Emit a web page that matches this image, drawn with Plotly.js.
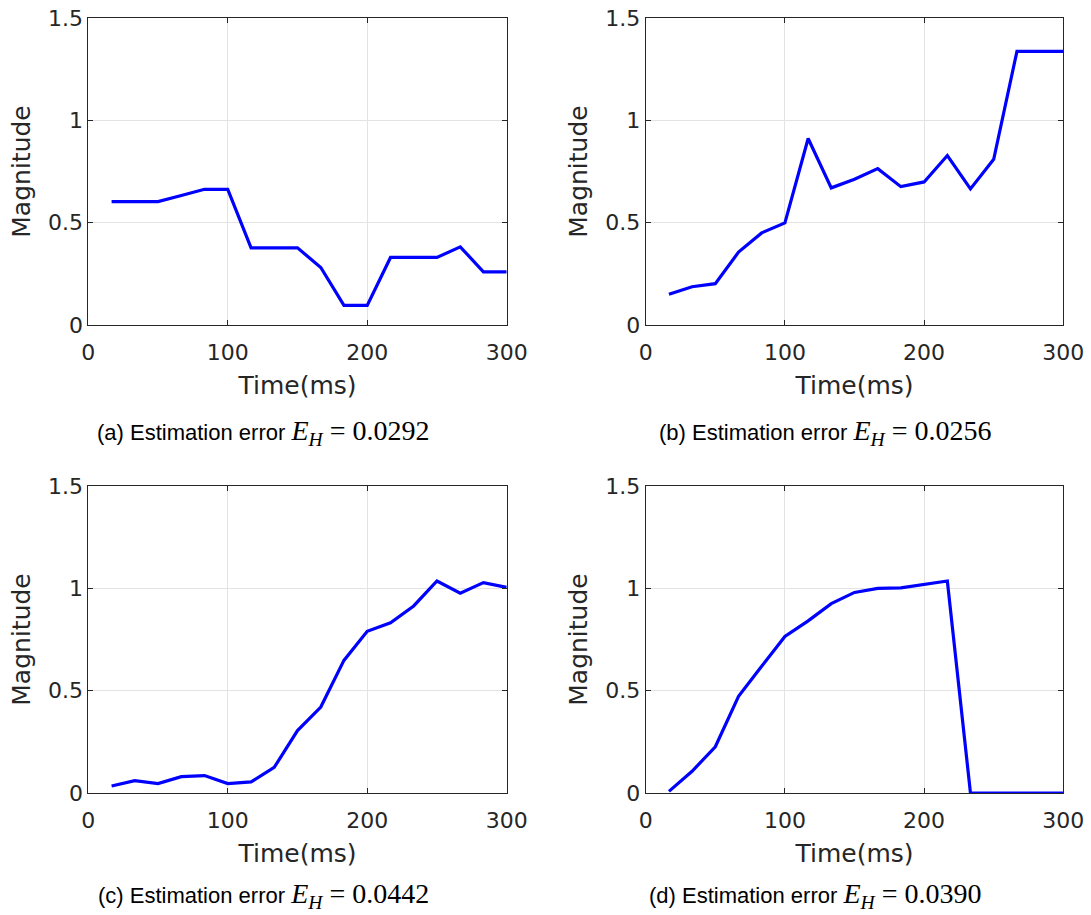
<!DOCTYPE html>
<html>
<head>
<meta charset="utf-8">
<script src="https://cdn.plot.ly/plotly-3.0.1.min.js"></script>
<style>html,body{margin:0;padding:0;background:#fff;}#chart{width:1091px;height:915px;}</style>
</head>
<body>
<div id="chart"></div>
<script>
// Time axis (ms)
const timeMs = [16.7, 33.3, 50, 66.7, 83.3, 100, 116.7, 133.3, 150, 166.7, 183.3, 200, 216.7, 233.3, 250, 266.7, 283.3, 300];
// Magnitudes per panel
const magA = [0.603, 0.603, 0.603, 0.633, 0.663, 0.663, 0.377, 0.377, 0.377, 0.281, 0.096, 0.096, 0.330, 0.330, 0.330, 0.382, 0.260, 0.260];
const magB = [0.150, 0.187, 0.202, 0.356, 0.450, 0.499, 0.911, 0.670, 0.712, 0.764, 0.676, 0.699, 0.828, 0.665, 0.810, 1.337, 1.337, 1.337];
const magC = [0.034, 0.060, 0.046, 0.080, 0.085, 0.046, 0.054, 0.125, 0.305, 0.420, 0.648, 0.790, 0.832, 0.914, 1.036, 0.976, 1.028, 1.005];
const magD = [0.008, 0.106, 0.226, 0.472, 0.619, 0.765, 0.841, 0.925, 0.980, 1.000, 1.002, 1.021, 1.036, 0, 0, 0, 0, 0];
// Captions
const panelLabels = ["(a)", "(b)", "(c)", "(d)"];
const errorValues = ["0.0292", "0.0256", "0.0442", "0.0390"];
const xTickVals = [0, 100, 200, 300];
const yTickVals = [0, 0.5, 1, 1.5];
const yTickText = ["0", "0.5", "1", "1.5"];

const W = 1091, H = 915;
const series = [magA, magB, magC, magD];
const axisIds = [["x", "y"], ["x2", "y2"], ["x3", "y3"], ["x4", "y4"]];

const traces = series.map((m, i) => ({
  type: "scatter", mode: "lines", x: timeMs, y: m,
  xaxis: axisIds[i][0], yaxis: axisIds[i][1],
  line: {color: "#0000ff", width: 3.2}, showlegend: false, hoverinfo: "x+y"
}));

const domLeft = [88.3 / W, 506.7 / W];
const domRight = [645.7 / W, 1063.3 / W];
const domTop = [1 - 325 / H, 1 - 18 / H];
const domBottom = [1 - 793 / H, 1 - 486 / H];

const axFam = "DejaVu Sans, sans-serif";
const capFam = "Liberation Sans, Arial, sans-serif";
const tickFont = {family: axFam, size: 22, color: "#262626"};
const titleFont = {family: axFam, size: 25, color: "#262626"};

function xAx(dom, anchor) {
  return {
    domain: dom, anchor: anchor, range: [0, 300], tickvals: xTickVals,
    ticks: "inside", ticklen: 5, tickcolor: "#262626", showline: true, linecolor: "#262626",
    linewidth: 1, mirror: "ticks", showgrid: true, gridcolor: "#e3e3e3", zeroline: false,
    ticklabelstandoff: 8,
    tickfont: tickFont, title: {text: "Time(ms)", font: titleFont, standoff: 12}
  };
}
function yAx(dom, anchor) {
  return {
    domain: dom, anchor: anchor, range: [0, 1.5], tickvals: yTickVals, ticktext: yTickText,
    ticks: "inside", ticklen: 5, tickcolor: "#262626", showline: true, linecolor: "#262626",
    linewidth: 1, mirror: "ticks", showgrid: true, gridcolor: "#e3e3e3", zeroline: false,
    tickfont: tickFont, title: {text: "Magnitude", font: titleFont, standoff: 10}
  };
}

const capPos = [[263, 432], [825, 432], [263, 895], [815, 895]];
const annotations = panelLabels.map((p, i) => ({
  xref: "paper", yref: "paper", x: capPos[i][0] / W, y: 1 - capPos[i][1] / H,
  xanchor: "center", yanchor: "middle", showarrow: false,
  font: {family: capFam, size: 22, color: "#000"},
  text: p + " Estimation error <span style=\"font-family:'Liberation Serif',serif;font-size:28px\"><i>E</i><sub><i>H</i></sub>&nbsp;=&nbsp;" + errorValues[i] + "</span>"
}));

const layout = {
  width: W, height: H, margin: {l: 0, r: 0, t: 0, b: 0},
  paper_bgcolor: "#fff", plot_bgcolor: "#fff",
  xaxis: xAx(domLeft, "y"), yaxis: yAx(domTop, "x"),
  xaxis2: xAx(domRight, "y2"), yaxis2: yAx(domTop, "x2"),
  xaxis3: xAx(domLeft, "y3"), yaxis3: yAx(domBottom, "x3"),
  xaxis4: xAx(domRight, "y4"), yaxis4: yAx(domBottom, "x4"),
  annotations: annotations
};

Plotly.newPlot("chart", traces, layout, {displayModeBar: false, staticPlot: true});
</script>
</body>
</html>
